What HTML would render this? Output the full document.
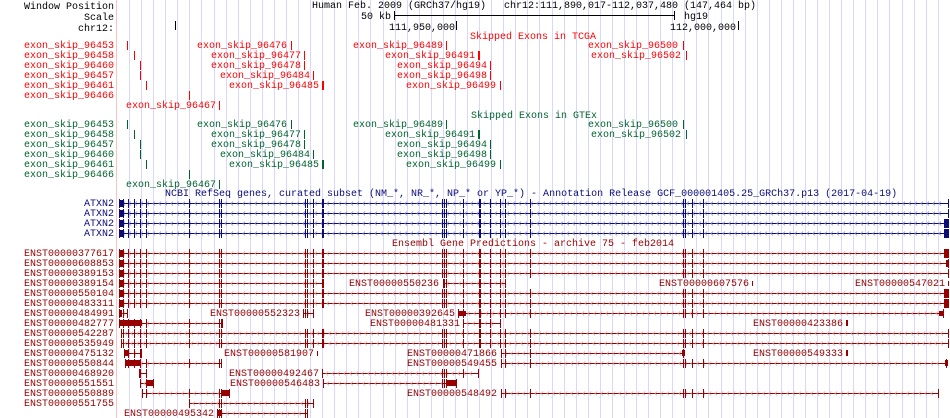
<!DOCTYPE html>
<html><head><meta charset="utf-8"><style>
html,body{margin:0;padding:0;background:#fff;width:950px;height:418px;overflow:hidden}
svg{display:block}
text{font-family:"Liberation Mono",monospace;font-size:10px}
.r{fill:#ff0000}.g{fill:#00642c}.b{fill:#0c0c78}.e{fill:#960000}.k{fill:#000}
.L{text-anchor:end}
</style></head><body>
<svg id="s" width="950" height="418" xmlns="http://www.w3.org/2000/svg">
<g id="grid"></g>
<rect x="116" y="0" width="1" height="418" fill="#ffc0c0"/>
<g id="gr"></g>
<!-- header -->
<text class="k L" x="114" y="9">Window Position</text>
<text class="k L" x="114" y="20">Scale</text>
<text class="k L" x="114" y="31">chr12:</text>
<text class="k" x="312" y="8">Human Feb. 2009 (GRCh37/hg19)</text>
<text class="k" x="504" y="8">chr12:111,890,017-112,037,480 (147,464 bp)</text>
<text class="k" x="361" y="19">50 kb</text>
<rect x="394" y="15" width="281" height="1" fill="#000"/>
<rect x="394" y="11" width="1" height="9" fill="#000"/>
<rect x="674" y="11" width="1" height="9" fill="#000"/>
<text class="k" x="684" y="19">hg19</text>
<rect x="175" y="21" width="1" height="9" fill="#000"/>
<text class="k" x="389" y="30">111,950,000</text>
<rect x="456" y="21" width="1" height="9" fill="#000"/>
<text class="k" x="670" y="30">112,000,000</text>
<rect x="738" y="21" width="1" height="9" fill="#000"/>
<!-- TCGA -->
<text class="r" x="470" y="39">Skipped Exons in TCGA</text>
<text class="r L" x="114" y="48">exon_skip_96453</text>
<text class="r L" x="114" y="58">exon_skip_96458</text>
<text class="r L" x="114" y="68">exon_skip_96460</text>
<text class="r L" x="114" y="78">exon_skip_96457</text>
<text class="r L" x="114" y="88">exon_skip_96461</text>
<text class="r L" x="114" y="98">exon_skip_96466</text>
<g class="r">
<text x="197" y="48">exon_skip_96476</text><text x="353" y="48">exon_skip_96489</text><text x="588" y="48">exon_skip_96500</text>
<text x="211" y="58">exon_skip_96477</text><text x="385" y="58">exon_skip_96491</text><text x="591" y="58">exon_skip_96502</text>
<text x="211" y="68">exon_skip_96478</text><text x="397" y="68">exon_skip_96494</text>
<text x="220" y="78">exon_skip_96484</text><text x="397" y="78">exon_skip_96498</text>
<text x="229" y="88">exon_skip_96485</text><text x="406" y="88">exon_skip_96499</text>
<text x="126" y="108">exon_skip_96467</text>
</g>
<!-- GTEx -->
<text class="g" x="471" y="118">Skipped Exons in GTEx</text>
<text class="g L" x="114" y="127">exon_skip_96453</text>
<text class="g L" x="114" y="137">exon_skip_96458</text>
<text class="g L" x="114" y="147">exon_skip_96457</text>
<text class="g L" x="114" y="157">exon_skip_96460</text>
<text class="g L" x="114" y="167">exon_skip_96461</text>
<text class="g L" x="114" y="177">exon_skip_96466</text>
<g class="g">
<text x="197" y="127">exon_skip_96476</text><text x="353" y="127">exon_skip_96489</text><text x="588" y="127">exon_skip_96500</text>
<text x="211" y="137">exon_skip_96477</text><text x="385" y="137">exon_skip_96491</text><text x="591" y="137">exon_skip_96502</text>
<text x="211" y="147">exon_skip_96478</text><text x="397" y="147">exon_skip_96494</text>
<text x="220" y="157">exon_skip_96484</text><text x="397" y="157">exon_skip_96498</text>
<text x="229" y="167">exon_skip_96485</text><text x="406" y="167">exon_skip_96499</text>
<text x="126" y="187">exon_skip_96467</text>
</g>
<!-- RefSeq -->
<text class="b" x="165" y="196">NCBI RefSeq genes, curated subset (NM_*, NR_*, NP_* or YP_*) - Annotation Release GCF_000001405.25_GRCh37.p13 (2017-04-19)</text>
<text class="b L" x="114" y="206">ATXN2</text>
<text class="b L" x="114" y="216">ATXN2</text>
<text class="b L" x="114" y="226">ATXN2</text>
<text class="b L" x="114" y="236">ATXN2</text>
<!-- Ensembl -->
<text class="e" x="392" y="246">Ensembl Gene Predictions - archive 75 - feb2014</text>
<g class="e">
<text class="L" x="114" y="256">ENST00000377617</text>
<text class="L" x="114" y="266">ENST00000608853</text>
<text class="L" x="114" y="276">ENST00000389153</text>
<text class="L" x="114" y="286">ENST00000389154</text>
<text class="L" x="114" y="296">ENST00000550104</text>
<text class="L" x="114" y="306">ENST00000483311</text>
<text class="L" x="114" y="316">ENST00000484991</text>
<text class="L" x="114" y="326">ENST00000482777</text>
<text class="L" x="114" y="336">ENST00000542287</text>
<text class="L" x="114" y="346">ENST00000535949</text>
<text class="L" x="114" y="356">ENST00000475132</text>
<text class="L" x="114" y="366">ENST00000550844</text>
<text class="L" x="114" y="376">ENST00000468920</text>
<text class="L" x="114" y="386">ENST00000551551</text>
<text class="L" x="114" y="396">ENST00000550889</text>
<text class="L" x="114" y="406">ENST00000551755</text>
<text x="349" y="286">ENST00000550236</text>
<text x="659" y="286">ENST00000607576</text>
<text x="855" y="286">ENST00000547021</text>
<text x="210" y="316">ENST00000552323</text>
<text x="365" y="316">ENST00000392645</text>
<text x="370" y="326">ENST00000481331</text>
<text x="753" y="326">ENST00000423386</text>
<text x="224" y="356">ENST00000581907</text>
<text x="407" y="356">ENST00000471866</text>
<text x="753" y="356">ENST00000549333</text>
<text x="407" y="366">ENST00000549455</text>
<text x="229" y="376">ENST00000492467</text>
<text x="230" y="386">ENST00000546483</text>
<text x="407" y="396">ENST00000548492</text>
<text x="124" y="416">ENST00000495342</text>
</g>
</svg>
<script>
var NS="http://www.w3.org/2000/svg",G=document.getElementById('gr'),GR=document.getElementById('grid');
function R(x,y,w,h,c,p){var r=document.createElementNS(NS,'rect');r.setAttribute('x',x);r.setAttribute('y',y);r.setAttribute('width',w);r.setAttribute('height',h);r.setAttribute('fill',c);(p||G).appendChild(r);}
for(var k=1;k<70;k++)R(Math.round(117+12.07*k),0,1,418,'#d8d8ff',GR);
var E=[123,128,134,140,146,189,219,221,305,307,313,322,442,444,446,463,479,490,500,505,530,683,685,692,703];
function gene(y,x1,x2,c,lc){
 R(x1,y,x2-x1+1,1,c);
 var d='';for(var x=x1+4;x<x2-3;x+=6){d+='M'+(x+2)+' '+(y-1.5)+'L'+x+' '+(y+0.5)+'L'+(x+2)+' '+(y+2.5);}
 var p=document.createElementNS(NS,'path');p.setAttribute('d',d);p.setAttribute('stroke',lc);p.setAttribute('fill','none');p.setAttribute('stroke-width','0.8');G.appendChild(p);
 for(var i=0;i<E.length;i++){var e=E[i];if(e>x1&&e<x2)R(e,y-4,(e==322||e==479)?2:1,9,c);}
 R(x1,y-4,1,9,c);R(x2,y-4,1,9,c);
}
function B(x1,x2,y,c,h){h=h||7;R(x1,y-Math.floor(h/2),x2-x1+1,h,c);}
var N='#0c0c78',NL='#8c8cd0',D='#960000',DL='#e0a0a0';
[203,213,223,233].forEach(function(y,i){gene(y,119,948,N,NL);B(119,122,y,N);if(i>=2)B(944,948,y,N,9);});
function eg(y,a,b){gene(y,a,b,D,DL);}
eg(253,119,948);B(119,122,253,D);B(944,948,253,D,9);
eg(263,119,948);B(119,122,263,D);B(946,948,263,D);
eg(273,119,948);B(119,122,273,D);
eg(283,119,323);B(119,122,283,D);eg(283,443,505);R(752,281,1,5,D);R(948,281,1,5,D);
eg(293,119,948);B(119,122,293,D);B(944,948,293,D,9);
eg(303,119,948);B(119,122,303,D);B(944,948,303,D,9);
eg(313,119,127);B(119,121,313,D);eg(313,303,313);eg(313,458,943);B(458,465,313,D,5);B(939,943,313,D,5);
eg(323,119,222);B(119,141,323,D,6);eg(323,463,500);R(846,320,2,6,D);
eg(333,121,948);eg(343,121,948);
eg(353,124,141);B(124,127,353,D,6);R(317,351,1,5,D);eg(353,501,683);B(682,684,353,D,6);R(846,350,2,6,D);
eg(363,125,221);B(125,140,363,D,6);eg(363,501,946);B(945,947,363,D,6);
eg(373,139,146);eg(373,322,478);
eg(383,140,153);B(146,153,383,D,6);eg(383,323,456);B(447,456,383,D,6);
eg(393,142,229);B(221,229,393,D,6);eg(393,501,938);
eg(403,189,313);
eg(413,217,307);B(217,220,413,D,6);
// skipped exon ticks
function sk(ys,c){var t=[[0,127],[0,291],[0,446],[0,683],[1,134],[1,304],[1,478,2],[1,686],[2,140],[2,304],[2,490],[3,140],[3,313],[3,490],[4,146],[4,322,2],[4,500],[5,189],[6,219]];
t.forEach(function(a){R(a[1],ys+a[0]*10-4,a[2]||1,9,c);});}
sk(45,'#ff0000');sk(124,'#00642c');
</script>
</body></html>
